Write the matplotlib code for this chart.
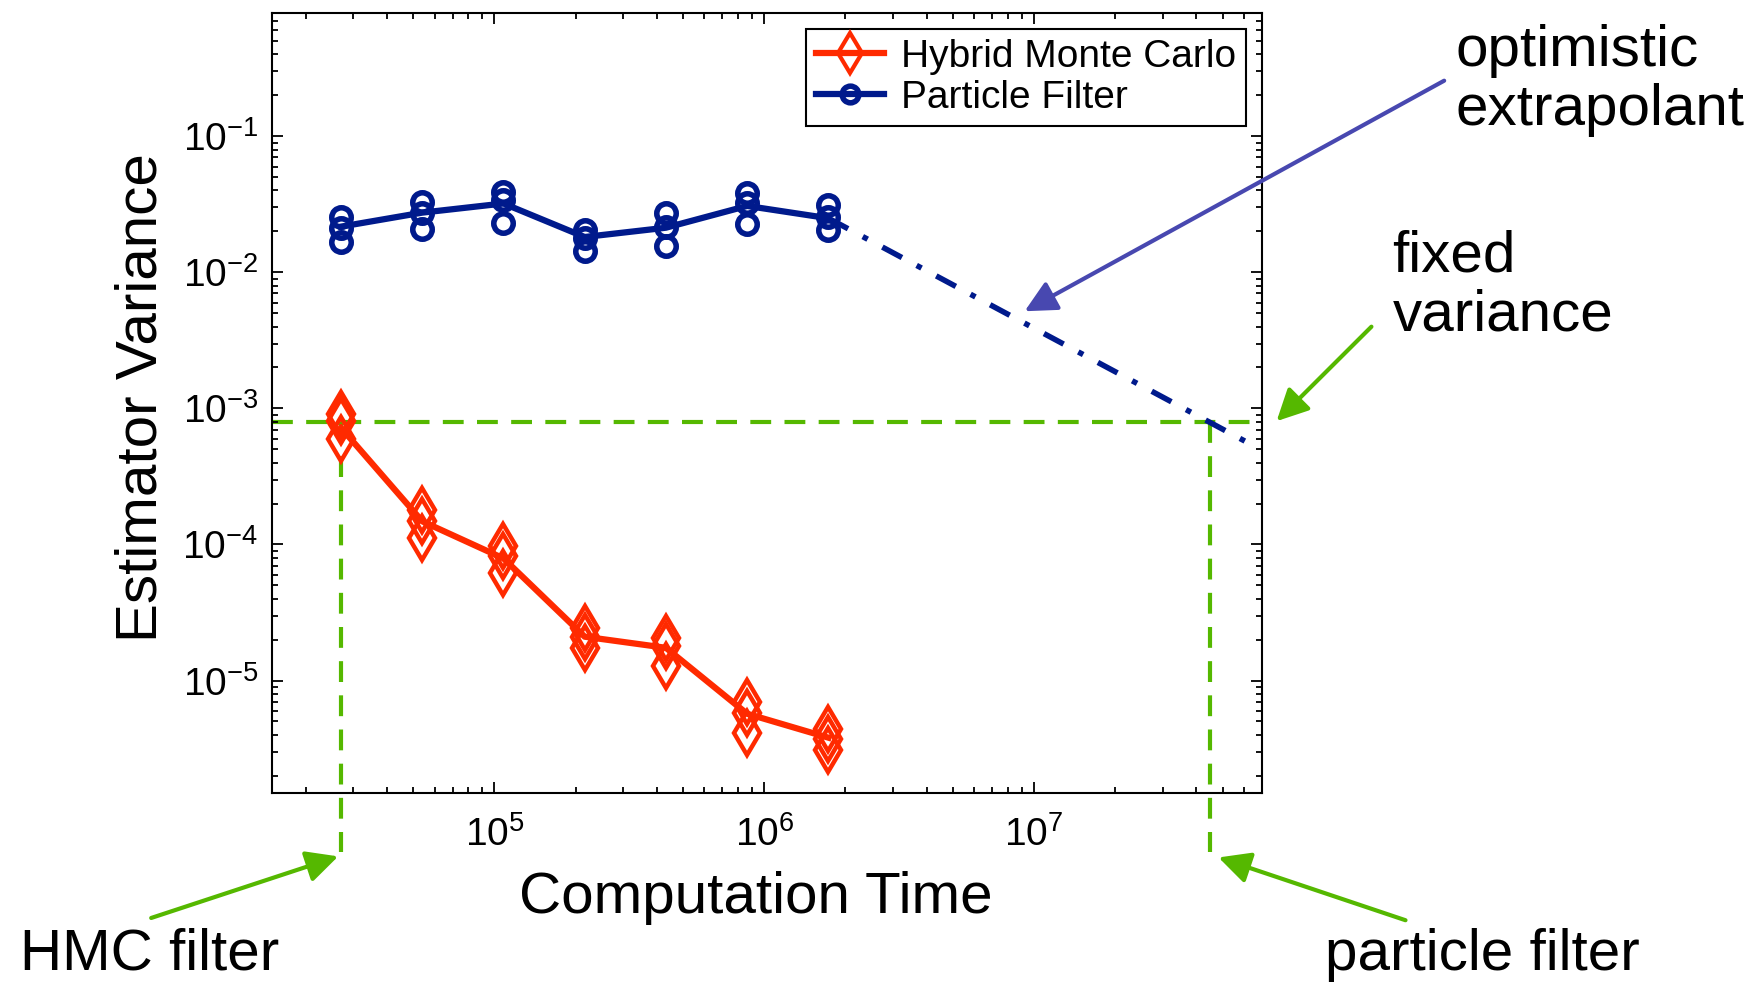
import numpy as np
import matplotlib
matplotlib.use("Agg")
import matplotlib.pyplot as plt
from matplotlib.lines import Line2D

plt.rcParams['font.family'] = ['Liberation Sans', 'DejaVu Sans']
plt.rcParams['mathtext.fontset'] = 'custom'
plt.rcParams['mathtext.rm'] = 'Liberation Sans'
plt.rcParams['mathtext.it'] = 'Liberation Sans:italic'
plt.rcParams['mathtext.bf'] = 'Liberation Sans:bold'
plt.rcParams['axes.unicode_minus'] = False

# computation time for each point (doubling)
comp_time = [2.7e4, 5.4e4, 1.08e5, 2.16e5, 4.32e5, 8.64e5, 1.73e6]

# Hybrid Monte Carlo: three runs + mean line
hmc_runs = [
    [9.1e-4, 1.8e-4, 9.7e-5, 2.45e-5, 2.06e-5, 7.0e-6, 4.4e-6],
    [8.1e-4, 1.49e-4, 8.2e-5, 2.1e-5, 1.79e-5, 5.8e-6, 3.7e-6],
    [6.0e-4, 1.12e-4, 6.2e-5, 1.74e-5, 1.27e-5, 4.1e-6, 3.1e-6],
]
hmc_mean = [7.2e-4, 1.48e-4, 7.9e-5, 2.1e-5, 1.74e-5, 5.7e-6, 3.8e-6]

# Particle filter: three runs + mean line
pf_runs = [
    [0.0257, 0.0331, 0.0392, 0.0205, 0.0272, 0.0385, 0.0313],
    [0.0211, 0.0272, 0.0340, 0.0178, 0.0217, 0.0321, 0.0257],
    [0.0166, 0.0207, 0.0232, 0.0143, 0.0155, 0.0227, 0.0205],
]
pf_mean = [0.0217, 0.0275, 0.0321, 0.0182, 0.0213, 0.0308, 0.0250]

# optimistic extrapolation of the particle filter
ext_time = [1.73e6, 6.1e7]
ext_var = [0.0250, 5.7e-4]

fixed_var = 8e-4
hmc_time_at_fixed = 2.7e4
pf_time_at_fixed = 4.5e7
below_axis = 5.5e-7

red = '#ff2a00'
blue = '#001a8c'
green = '#55b800'
arrow_blue = '#4848b0'

fig = plt.figure(figsize=(17.56, 9.84), dpi=100)
ax = fig.add_axes([0.155, 0.1945, 0.5637, 0.7918])

# fixed variance guide lines
ax.axhline(fixed_var, color=green, lw=3, dashes=(5, 3.2), zorder=1)
ax.plot([hmc_time_at_fixed, hmc_time_at_fixed], [fixed_var, below_axis], color=green,
        lw=3, dashes=(5, 3.2), clip_on=False, zorder=1)
ax.plot([pf_time_at_fixed, pf_time_at_fixed], [fixed_var, below_axis], color=green,
        lw=3, dashes=(5, 3.2), clip_on=False, zorder=1)

# extrapolant
ax.plot(ext_time, ext_var, color=blue, lw=4, dashes=(4, 3, 1, 3), zorder=2)

ax.plot(comp_time, hmc_mean, color=red, lw=4.5, zorder=3)
for run in hmc_runs:
    ax.plot(comp_time, run, ls='none', marker='d', ms=22, mfc='none', mec=red, mew=3.2, zorder=4)

ax.plot(comp_time, pf_mean, color=blue, lw=4.5, zorder=3)
for run in pf_runs:
    ax.plot(comp_time, run, ls='none', marker='o', ms=14, mfc='none', mec=blue, mew=4, zorder=4)

ax.set_xscale('log')
ax.set_yscale('log')
ax.set_xlim(1.5e4, 7e7)
ax.set_ylim(1.5e-6, 0.8)

ax.set_xticks([1e5, 1e6, 1e7])
ax.set_yticks([1e-5, 1e-4, 1e-3, 1e-2, 1e-1])
ax.tick_params(which='both', direction='in', top=True, right=True, width=1.3)
ax.tick_params(which='major', length=8, labelsize=28)
ax.tick_params(which='minor', length=4.5)
ax.tick_params(axis='x', which='major', pad=17)
ax.tick_params(axis='y', which='major', pad=10)
for s in ax.spines.values():
    s.set_linewidth(1.5)

ax.set_xlabel('Computation Time', fontsize=42)
ax.set_ylabel('Estimator Variance', fontsize=42)
ax.xaxis.set_label_coords(0.489, -0.10)
ax.yaxis.set_label_coords(-0.105, 0.507)

handles = [
    Line2D([], [], color=red, lw=4.5, marker='d', ms=20, mfc='none', mec=red, mew=3),
    Line2D([], [], color=blue, lw=4.5, marker='o', ms=12, mfc='none', mec=blue, mew=4),
]
leg = ax.legend(handles, ['Hybrid Monte Carlo', 'Particle Filter'], loc='upper right',
                bbox_to_anchor=(0.984, 0.980), borderaxespad=0, fontsize=28,
                handlelength=1.75, handletextpad=0.45, labelspacing=0.13,
                borderpad=0.25, fancybox=False, framealpha=1, edgecolor='black')
leg.get_frame().set_linewidth(1.5)

# annotations
fs = 42
arrow = '-|>,head_length=0.6,head_width=0.3'
ax.annotate('optimistic\nextrapolant', xy=(0.5835, 0.6837), xycoords='figure fraction',
            xytext=(0.829, 0.918), textcoords='figure fraction', fontsize=fs,
            ha='left', va='center', linespacing=1.12, annotation_clip=False,
            arrowprops=dict(arrowstyle=arrow, mutation_scale=32,
                            lw=3, color=arrow_blue, shrinkA=0, shrinkB=0,
                            relpos=(-0.04, 0.5)))
fig.text(0.793, 0.709, 'fixed\nvariance', fontsize=fs, ha='left', va='center', linespacing=1.12)
ax.annotate('', xy=(0.727, 0.572), xycoords='figure fraction',
            xytext=(0.781, 0.668), textcoords='figure fraction', annotation_clip=False,
            arrowprops=dict(arrowstyle=arrow, mutation_scale=32,
                            lw=3, color=green, shrinkA=0, shrinkB=0))
fig.text(0.0115, 0.0296, 'HMC filter', fontsize=fs, ha='left', va='center')
ax.annotate('', xy=(0.1926, 0.1297), xycoords='figure fraction',
            xytext=(0.0861, 0.0671), textcoords='figure fraction', annotation_clip=False,
            arrowprops=dict(arrowstyle=arrow, mutation_scale=32,
                            lw=3, color=green, shrinkA=0, shrinkB=0))
fig.text(0.7545, 0.0296, 'particle filter', fontsize=fs, ha='left', va='center')
ax.annotate('', xy=(0.6939, 0.1286), xycoords='figure fraction',
            xytext=(0.8004, 0.0648), textcoords='figure fraction', annotation_clip=False,
            arrowprops=dict(arrowstyle=arrow, mutation_scale=32,
                            lw=3, color=green, shrinkA=0, shrinkB=0))

fig.savefig('out.png', dpi=100)
